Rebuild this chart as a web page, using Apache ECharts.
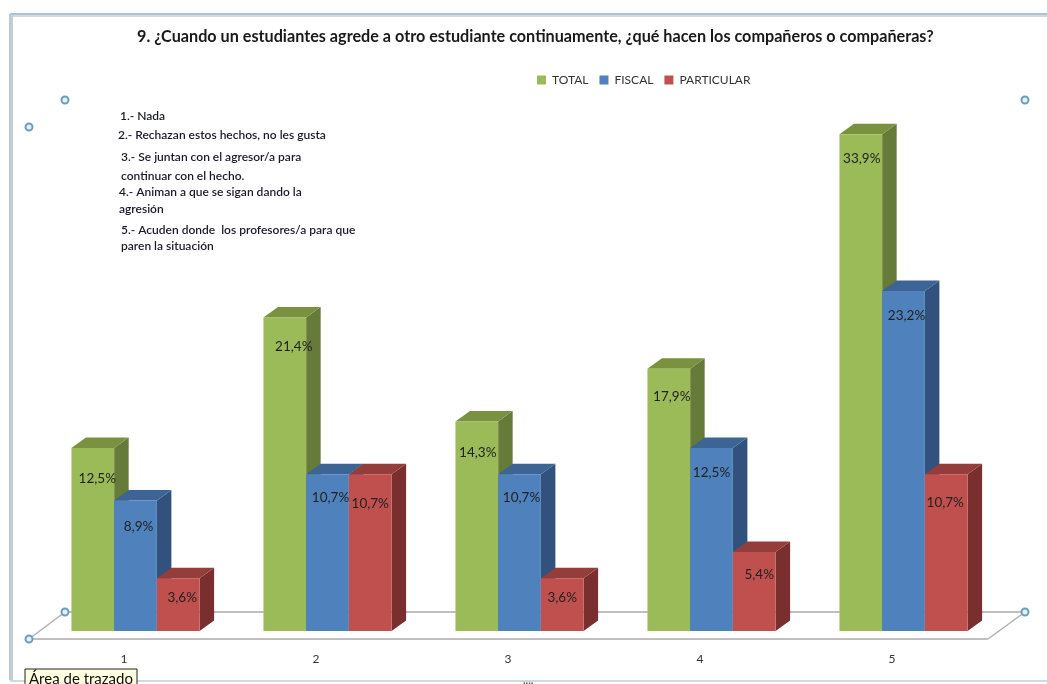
<!DOCTYPE html>
<html><head><meta charset="utf-8">
<style>html,body{margin:0;padding:0;background:#fff}#c{width:1047px;height:684px}</style>
<script src="https://cdn.jsdelivr.net/npm/echarts@6/dist/echarts.min.js"></script>
</head><body><div id="c"></div>
<script>
const categories = ['1','2','3','4','5'];
const seriesNames = ['TOTAL','FISCAL','PARTICULAR'];
const total = [12.5,21.4,14.3,17.9,33.9];
const fiscal = [8.9,10.7,10.7,12.5,23.2];
const particular = [3.6,10.7,3.6,5.4,10.7];
const titleText = '9. ¿Cuando un estudiantes agrede a otro estudiante continuamente, ¿qué hacen los compañeros o compañeras?';
const noteLines = [
  ['1.- Nada',120,116],
  ['2.- Rechazan estos hechos, no les gusta',118,135],
  ['3.- Se juntan con el agresor/a para',121,157],
  ['continuar con el hecho.',121,176],
  ['4.- Animan a que se sigan dando la',119,192],
  ['agresión',119,209],
  ['5.- Acuden donde  los profesores/a para que',121,230],
  ['paren la situación',121,246]
];
const FONT = 'Lato, "Open Sans", sans-serif';
const faces = [
  {front:'#9BBB59',top:'#7A9140',side:'#667A39'},
  {front:'#4F81BD',top:'#3C6595',side:'#30527C'},
  {front:'#C0504D',top:'#953D3A',side:'#7A2F2E'}
];
const labelDrop = [[31,29,31,28,24],[26,23,23,25,25],[19,29,19,23,28]];
const labelShift = [[4.5,9,1,3,1],[3,3,2,0,3],[4,0,0,5,-1]];
const data = [total,fiscal,particular];
const DX=14.5, DY=-10.5;

function render(k){
  return function(params,api){
    const i=api.value(0), v=api.value(1);
    const base=api.coord([i,0]), top=api.coord([i,v]);
    const band=api.size([1,0])[0];
    const w=band*0.2225;
    const x0=base[0]+band*0.06-1.5*w+k*w, x1=x0+w;
    const yb=base[1], yt=top[1];
    const c=faces[k];
    return {type:'group',children:[
      {type:'polygon',shape:{points:[[x1,yb],[x1+DX,yb+DY],[x1+DX,yt+DY],[x1,yt]]},style:{fill:c.side}},
      {type:'polygon',shape:{points:[[x0,yt],[x0+DX,yt+DY],[x1+DX,yt+DY],[x1,yt]]},style:{fill:c.top}},
      {type:'rect',shape:{x:x0,y:yt,width:w,height:yb-yt},style:{fill:c.front}},
      {type:'text',style:{text:String(v).replace('.',',')+'%',x:(x0+x1)/2+labelShift[k][i],y:yt+labelDrop[k][i],
        align:'center',verticalAlign:'middle',fill:'#222',font:'13.5px '+FONT},z2:5}
    ]};
  };
}
const series=seriesNames.map((name,k)=>({
  name,type:'custom',coordinateSystem:'cartesian2d',renderItem:render(k),
  itemStyle:{color:faces[k].front},z:k+2,
  encode:{x:0,y:1},
  data:data[k].map((v,i)=>[i,v])
}));
function handle(x,y){return {type:'circle',shape:{cx:x,cy:y,r:3.5},style:{fill:'#E6F0F7',stroke:'#6C9DBE',lineWidth:2},z:1};}
function ln(a,b,c,d,col,wd){return {type:'line',shape:{x1:a,y1:b,x2:c,y2:d},style:{stroke:col||'#BFBFBF',lineWidth:wd||2},z:0};}
const graphics=[
  ln(10,14,1047,14,'#8FB1CC',1.5), ln(11,16,1047,16,'#D5D8DB',2),
  ln(10,14,10,680,'#9DB9D0',1.5), ln(12,16,12,680,'#C8CCD0',2),
  ln(10,681,1047,681,'#B5D0D5',1.5),
  ln(29,639,988,639), ln(65,612,1025,612), ln(29,639,65,612,'#B0B0B0',1.5), ln(988,639,1025,612,'#B0B0B0',1.5),
  handle(65,100),handle(1025,100),handle(29,127),handle(65,612),handle(1025,612),handle(29,639),
  ...noteLines.map(l=>({type:'text',x:l[1],y:l[2],z:3,style:{text:l[0],fill:'#1A1A2A',font:'600 12px '+FONT,verticalAlign:'middle'}})),
  {type:'rect',shape:{x:25,y:669,width:112,height:18},style:{fill:'#FFFFE1',stroke:'#222',lineWidth:1},z:20},
  {type:'text',x:29,y:679,z:21,style:{text:'Área de trazado',fill:'#111',font:'15px '+FONT,verticalAlign:'middle'}},
  {type:'text',x:523,y:680,z:21,style:{text:'....',fill:'#666',font:'bold 11px '+FONT,verticalAlign:'middle'}}
];
const chart=echarts.init(document.getElementById('c'),null,{renderer:'canvas'});
chart.setOption({
  animation:false,backgroundColor:'#fff',
  title:{text:titleText,left:132,top:24,textStyle:{fontFamily:FONT,fontWeight:'bold',fontSize:16.2,color:'#1A1A1A'}},
  legend:{data:seriesNames,left:532,top:69,itemWidth:9,itemHeight:9,itemGap:11,icon:'rect',
    textStyle:{fontFamily:FONT,fontSize:12,color:'#333',padding:[0,0,0,1]}},
  grid:{left:28,width:960,top:45,bottom:53},
  xAxis:{type:'category',data:categories,axisLine:{show:false},axisTick:{show:false},splitLine:{show:false},
    axisLabel:{margin:22,fontFamily:FONT,fontSize:12,color:'#333'}},
  yAxis:{type:'value',min:0,max:40,show:false,splitLine:{show:false}},
  graphic:{elements:graphics},
  series
});
</script></body></html>
